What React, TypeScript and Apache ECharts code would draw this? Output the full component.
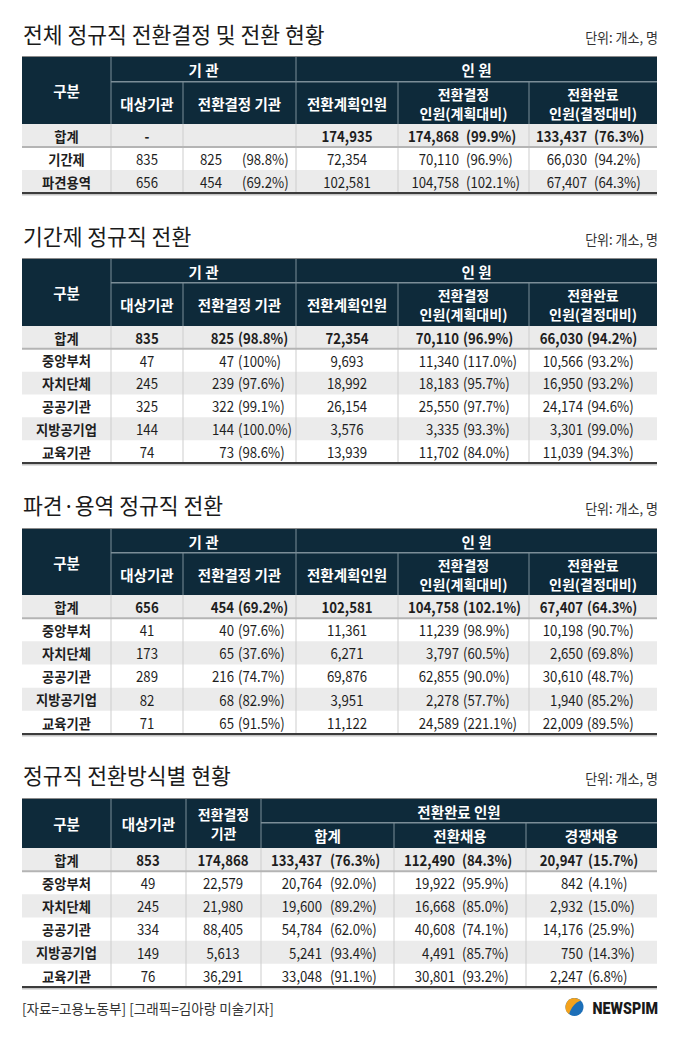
import React, { useEffect, useRef } from "react";
import * as echarts from "echarts";

const FONT = "'Noto Sans CJK KR','Noto Sans',sans-serif";

// ---------- Table 1: 전체 정규직 전환결정 및 전환 현황 ----------
const t1Title = "전체 정규직 전환결정 및 전환 현황";
const t1Labels = ["합계", "기간제", "파견용역"];
const t1Orgs = ["-", "835", "656"];
const t1DecOrgs = ["", "825", "454"];
const t1DecOrgsPct = ["", "98.8", "69.2"];
const t1Plan = ["174,935", "72,354", "102,581"];
const t1DecPeople = ["174,868", "70,110", "104,758"];
const t1DecPeoplePct = ["99.9", "96.9", "102.1"];
const t1Done = ["133,437", "66,030", "67,407"];
const t1DonePct = ["76.3", "94.2", "64.3"];

// ---------- Table 2: 기간제 정규직 전환 ----------
const t2Title = "기간제 정규직 전환";
const t2Labels = ["합계", "중앙부처", "자치단체", "공공기관", "지방공기업", "교육기관"];
const t2Orgs = ["835", "47", "245", "325", "144", "74"];
const t2DecOrgs = ["825", "47", "239", "322", "144", "73"];
const t2DecOrgsPct = ["98.8", "100", "97.6", "99.1", "100.0", "98.6"];
const t2Plan = ["72,354", "9,693", "18,992", "26,154", "3,576", "13,939"];
const t2DecPeople = ["70,110", "11,340", "18,183", "25,550", "3,335", "11,702"];
const t2DecPeoplePct = ["96.9", "117.0", "95.7", "97.7", "93.3", "84.0"];
const t2Done = ["66,030", "10,566", "16,950", "24,174", "3,301", "11,039"];
const t2DonePct = ["94.2", "93.2", "93.2", "94.6", "99.0", "94.3"];

// ---------- Table 3: 파견·용역 정규직 전환 ----------
const t3Title = "파견·용역 정규직 전환";
const t3Labels = ["합계", "중앙부처", "자치단체", "공공기관", "지방공기업", "교육기관"];
const t3Orgs = ["656", "41", "173", "289", "82", "71"];
const t3DecOrgs = ["454", "40", "65", "216", "68", "65"];
const t3DecOrgsPct = ["69.2", "97.6", "37.6", "74.7", "82.9", "91.5"];
const t3Plan = ["102,581", "11,361", "6,271", "69,876", "3,951", "11,122"];
const t3DecPeople = ["104,758", "11,239", "3,797", "62,855", "2,278", "24,589"];
const t3DecPeoplePct = ["102.1", "98.9", "60.5", "90.0", "57.7", "221.1"];
const t3Done = ["67,407", "10,198", "2,650", "30,610", "1,940", "22,009"];
const t3DonePct = ["64.3", "90.7", "69.8", "48.7", "85.2", "89.5"];

// ---------- Table 4: 정규직 전환방식별 현황 ----------
const t4Title = "정규직 전환방식별 현황";
const t4Labels = ["합계", "중앙부처", "자치단체", "공공기관", "지방공기업", "교육기관"];
const t4Orgs = ["853", "49", "245", "334", "149", "76"];
const t4DecOrgs = ["174,868", "22,579", "21,980", "88,405", "5,613", "36,291"];
const t4Total = ["133,437", "20,764", "19,600", "54,784", "5,241", "33,048"];
const t4TotalPct = ["76.3", "92.0", "89.2", "62.0", "93.4", "91.1"];
const t4Conv = ["112,490", "19,922", "16,668", "40,608", "4,491", "30,801"];
const t4ConvPct = ["84.3", "95.9", "85.0", "74.1", "85.7", "93.2"];
const t4Comp = ["20,947", "842", "2,932", "14,176", "750", "2,247"];
const t4CompPct = ["15.7", "4.1", "15.0", "25.9", "14.3", "6.8"];

const unitText = "단위: 개소, 명";
const sourceText = "[자료=고용노동부] [그래픽=김아랑 미술기자]";
const brandText = "NEWSPIM";

const HEAD_BG = "#0e2a3a";
const HEAD_LINE = "#7b8d97";
const ROW_GRAY = "#ebebeb";
const TXT = "#1e1e1e";
const NUM_SCALE = 0.88;

type Col = { values: string[]; pcts?: string[]; center?: number; numRight?: number; pctLeft?: number };

function text(x: number, y: number, s: string, font: string, fill: string, align = "center", extra: any = {}, styleExtra: any = {}) {
  return {
    type: "text",
    x,
    y,
    silent: true,
    ...extra,
    style: { text: s, font, fill, textAlign: align, textVerticalAlign: "middle", ...styleExtra },
  };
}
function box(x: number, y: number, w: number, h: number, fill: string) {
  return { type: "rect", silent: true, shape: { x, y, width: w, height: h }, style: { fill } };
}

function title(els: any[], y: number, s: string) {
  els.push(text(23, y, s, `400 22px ${FONT}`, "#1a1a1a", "left", { scaleX: 0.98 }));
  els.push(text(658, y + 4, unitText, `400 14px ${FONT}`, "#333", "right", { scaleX: 0.93 }));
}

function headerLabel(els: any[], cx: number, cy: number, lines: string[]) {
  if (lines.length === 1) {
    els.push(text(cx, cy, lines[0], `700 14.5px ${FONT}`, "#fff"));
  } else {
    els.push(text(cx, cy, lines.join("\n"), `700 14px ${FONT}`, "#fff", "center", {}, { lineHeight: 19 }));
  }
}

function body(els: any[], xs: number[], head: number, bottom: number, labels: string[], cols: Col[]) {
  const n = labels.length;
  const rh = (bottom - head) / n;
  const L = xs[0];
  const R = xs[xs.length - 1];
  for (let i = 0; i < n; i++) {
    if (i % 2 === 0) els.push(box(L, head + i * rh, R - L, rh, ROW_GRAY));
  }
  for (let k = 1; k < xs.length - 1; k++) els.push(box(xs[k] - 0.5, head, 1, bottom - head, "#cdcdcd"));
  els.push(box(L, head + rh - 1, R - L, 2, "#b4b4b4"));
  els.push(box(L, bottom - 1, R - L, 2, "#3c3c3c"));
  els.push(box(L, bottom + 1, R - L, 1.5, "#c4c4c4"));
  for (let i = 0; i < n; i++) {
    const cy = head + (i + 0.5) * rh;
    const bold = i === 0;
    els.push(text((xs[0] + xs[1]) / 2, cy, labels[i], `700 14px ${FONT}`, TXT, "center", { scaleX: 0.95 }));
    const f = `${bold ? 700 : 400} 15px ${FONT}`;
    const sc = { scaleX: NUM_SCALE };
    cols.forEach((c) => {
      const v = c.values[i];
      if (c.pcts) {
        if (v) els.push(text(c.numRight as number, cy, v, f, TXT, "right", sc));
        if (c.pcts[i]) els.push(text(c.pctLeft as number, cy, `(${c.pcts[i]}%)`, f, TXT, "left", sc));
      } else if (v) {
        els.push(text(c.center as number, cy, v, f, TXT, "center", sc));
      }
    });
  }
}

function tableA(els: any[], top: number, sub: number, head: number, bottom: number, labels: string[], cols: Col[]) {
  const xs = [22, 111, 183, 296, 398, 529, 657];
  els.push(box(xs[0], top, xs[6] - xs[0], head - top, HEAD_BG));
  els.push(box(xs[0], top - 1, xs[6] - xs[0], 1, "#8a8a8a"));
  els.push(box(xs[1], sub - 1, xs[6] - xs[1], 1.5, HEAD_LINE));
  [xs[1], xs[3]].forEach((x) => els.push(box(x - 0.5, top, 1, head - top, HEAD_LINE)));
  [xs[2], xs[4], xs[5]].forEach((x) => els.push(box(x - 0.5, sub, 1, head - sub, HEAD_LINE)));
  const mid = (sub + head) / 2;
  headerLabel(els, (xs[0] + xs[1]) / 2, (top + head) / 2, ["구분"]);
  headerLabel(els, (xs[1] + xs[3]) / 2, (top + sub) / 2, ["기 관"]);
  headerLabel(els, (xs[3] + xs[6]) / 2, (top + sub) / 2, ["인 원"]);
  headerLabel(els, (xs[1] + xs[2]) / 2, mid, ["대상기관"]);
  headerLabel(els, (xs[2] + xs[3]) / 2, mid, ["전환결정 기관"]);
  headerLabel(els, (xs[3] + xs[4]) / 2, mid, ["전환계획인원"]);
  headerLabel(els, (xs[4] + xs[5]) / 2, mid, ["전환결정", "인원(계획대비)"]);
  headerLabel(els, (xs[5] + xs[6]) / 2, mid, ["전환완료", "인원(결정대비)"]);
  body(els, xs, head, bottom, labels, cols);
}

function tableB(els: any[], top: number, sub: number, head: number, bottom: number, labels: string[], cols: Col[]) {
  const xs = [22, 111, 186, 261, 394, 526, 657];
  els.push(box(xs[0], top, xs[6] - xs[0], head - top, HEAD_BG));
  els.push(box(xs[0], top - 1, xs[6] - xs[0], 1, "#8a8a8a"));
  els.push(box(xs[3], sub - 1, xs[6] - xs[3], 1.5, HEAD_LINE));
  [xs[1], xs[2], xs[3]].forEach((x) => els.push(box(x - 0.5, top, 1, head - top, HEAD_LINE)));
  [xs[4], xs[5]].forEach((x) => els.push(box(x - 0.5, sub, 1, head - sub, HEAD_LINE)));
  const full = (top + head) / 2;
  const mid = (sub + head) / 2;
  headerLabel(els, (xs[0] + xs[1]) / 2, full, ["구분"]);
  headerLabel(els, (xs[1] + xs[2]) / 2, full, ["대상기관"]);
  headerLabel(els, (xs[2] + xs[3]) / 2, full, ["전환결정", "기관"]);
  headerLabel(els, (xs[3] + xs[6]) / 2, (top + sub) / 2, ["전환완료 인원"]);
  headerLabel(els, (xs[3] + xs[4]) / 2, mid, ["합계"]);
  headerLabel(els, (xs[4] + xs[5]) / 2, mid, ["전환채용"]);
  headerLabel(els, (xs[5] + xs[6]) / 2, mid, ["경쟁채용"]);
  body(els, xs, head, bottom, labels, cols);
}

let logoRegistered = false;
function registerLogo() {
  if (logoRegistered) return;
  logoRegistered = true;
  const leaf = (echarts as any).graphic.extendPath(
    "M9 0 A9 9 0 0 0 3.6 16.2 C5.5 10 9.5 4.5 15.3 2.6 A9 9 0 0 0 9 0 Z",
    {}
  );
  (echarts as any).graphic.registerShape("newsLeaf", leaf);
}

export default function App() {
  const ref = useRef<HTMLDivElement>(null);
  useEffect(() => {
    document.body.style.margin = "0";
    registerLogo();
    const chart = echarts.init(ref.current as HTMLDivElement, null, { renderer: "svg" });
    const els: any[] = [];

    title(els, 33, t1Title);
    tableA(els, 57, 82, 124, 193, t1Labels, [
      { values: t1Orgs, center: 147 },
      { values: t1DecOrgs, pcts: t1DecOrgsPct, numRight: 222, pctLeft: 242 },
      { values: t1Plan, center: 347 },
      { values: t1DecPeople, pcts: t1DecPeoplePct, numRight: 459, pctLeft: 466 },
      { values: t1Done, pcts: t1DonePct, numRight: 587, pctLeft: 594 },
    ]);

    title(els, 235, t2Title);
    tableA(els, 259, 283, 326, 463, t2Labels, [
      { values: t2Orgs, center: 147 },
      { values: t2DecOrgs, pcts: t2DecOrgsPct, numRight: 234, pctLeft: 238 },
      { values: t2Plan, center: 347 },
      { values: t2DecPeople, pcts: t2DecPeoplePct, numRight: 459, pctLeft: 463 },
      { values: t2Done, pcts: t2DonePct, numRight: 583, pctLeft: 587 },
    ]);

    title(els, 504, t3Title);
    tableA(els, 529, 553, 595, 734, t3Labels, [
      { values: t3Orgs, center: 147 },
      { values: t3DecOrgs, pcts: t3DecOrgsPct, numRight: 234, pctLeft: 238 },
      { values: t3Plan, center: 347 },
      { values: t3DecPeople, pcts: t3DecPeoplePct, numRight: 459, pctLeft: 463 },
      { values: t3Done, pcts: t3DonePct, numRight: 583, pctLeft: 587 },
    ]);

    title(els, 774, t4Title);
    tableB(els, 799, 823, 848, 987, t4Labels, [
      { values: t4Orgs, center: 148 },
      { values: t4DecOrgs, center: 223 },
      { values: t4Total, pcts: t4TotalPct, numRight: 322, pctLeft: 330 },
      { values: t4Conv, pcts: t4ConvPct, numRight: 455, pctLeft: 462 },
      { values: t4Comp, pcts: t4CompPct, numRight: 583, pctLeft: 588 },
    ]);

    els.push(text(22, 1008, sourceText, `400 14px ${FONT}`, "#333", "left", { scaleX: 0.97 }));
    els.push({ type: "circle", silent: true, shape: { cx: 574.5, cy: 1007, r: 9 }, style: { fill: "#1d6fb8" } });
    els.push({ type: "newsLeaf", silent: true, x: 565.5, y: 998, style: { fill: "#f4a21c" } });
    els.push(text(658, 1008, brandText, `900 17px Roboto, 'Liberation Sans', sans-serif`, "#1a1a1a", "right", { scaleX: 0.84 }));

    chart.setOption({ animation: false, backgroundColor: "#ffffff", graphic: { elements: els } });
    return () => chart.dispose();
  }, []);
  return <div ref={ref} style={{ width: 680, height: 1037 }} />;
}
